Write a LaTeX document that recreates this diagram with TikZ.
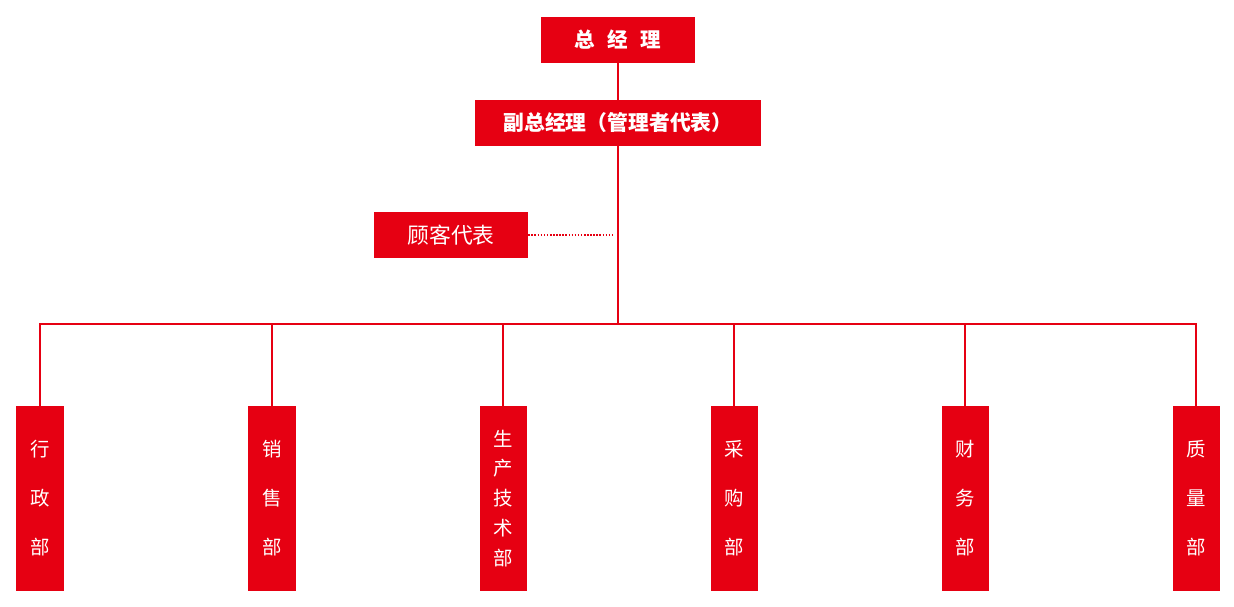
\documentclass[tikz,border=0pt]{standalone}
\usepackage{fontspec}
\setmainfont{Noto Sans CJK SC}
\usetikzlibrary{positioning}
\definecolor{orgred}{HTML}{E60012}

\begin{document}
\begin{tikzpicture}[x=0.025cm, y=-0.025cm,
  box/.style={fill=orgred, text=white, inner sep=0pt, minimum height=1.15cm},
  dept/.style={fill=orgred, text=white, inner sep=0pt, minimum width=1.175cm, minimum height=4.625cm, align=center},
  link/.style={draw=orgred, line width=1.4pt}]
 \useasboundingbox (0,0) rectangle (1234,606);
 % top of the chart
 \node[box, minimum width=3.85cm, font=\fontsize{14.6}{17}\selectfont\bfseries] (gm) at (618,40) {总\hspace{0.6em}经\hspace{0.6em}理};
 \node[box, minimum width=7.15cm, font=\fontsize{14.8}{17}\selectfont\bfseries] (dgm) at (618,123) {副总经理（管理者代表）};
 \node[box, minimum width=3.85cm, font=\fontsize{15.5}{18}\selectfont] (cr) at (451,235) {顾客代表};
 \coordinate (hub) at (618,324);
 \coordinate (crend) at (614,235);
 \draw[link] (gm) -- (dgm);
 \draw[link] (dgm) -- (hub);
 \draw[draw=orgred, line width=1pt, dash pattern=on 1.1pt off 1.1pt] (cr.east) -- (crend);
 % departments
 \node[dept, font=\fontsize{13.8}{34.9}\selectfont] (d1) at (40,498.5) {行\\政\\部};
 \node[dept, font=\fontsize{13.8}{34.9}\selectfont] (d2) at (272,498.5) {销\\售\\部};
 \node[dept, font=\fontsize{13.8}{21.3}\selectfont] (d3) at (503,498.5) {生\\产\\技\\术\\部};
 \node[dept, font=\fontsize{13.8}{34.9}\selectfont] (d4) at (734,498.5) {采\\购\\部};
 \node[dept, font=\fontsize{13.8}{34.9}\selectfont] (d5) at (965,498.5) {财\\务\\部};
 \node[dept, font=\fontsize{13.8}{34.9}\selectfont] (d6) at (1196,498.5) {质\\量\\部};
 \foreach \d in {d1,d2,d3,d4,d5,d6}
  \draw[link] (hub) -| (\d.north);
\end{tikzpicture}
\end{document}
